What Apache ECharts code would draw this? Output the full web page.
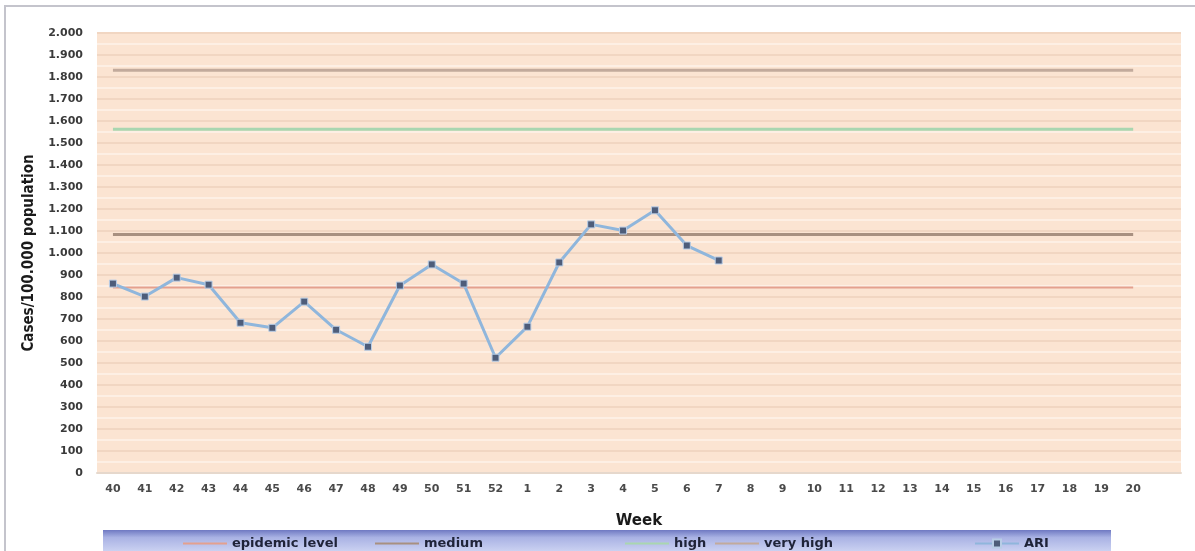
<!DOCTYPE html>
<html>
<head>
<meta charset="utf-8">
<script src="https://cdn.jsdelivr.net/npm/echarts@6/dist/echarts.min.js"></script>
<style>
  html, body { margin: 0; padding: 0; background: #ffffff; }
  #chart { width: 1195px; height: 551px; }
</style>
</head>
<body>
<div id="chart"></div>
<script>
// Surveillance weeks (season 40 .. 20), plus one empty slot at the right end
const weeks = ['40','41','42','43','44','45','46','47','48','49','50','51','52',
               '1','2','3','4','5','6','7','8','9','10','11','12','13','14','15','16','17','18','19','20'];
const axisWeeks = weeks.concat(['']);

// ARI incidence per 100.000 population (weeks 40 .. 7)
const ari = [861, 802, 888, 856, 683, 660, 779, 651, 574, 852, 948, 861, 524,
             665, 957, 1130, 1102, 1194, 1034, 966];

// Intensity thresholds
const epidemicLevel = 843;
const medium = 1084;
const high = 1563;
const veryHigh = 1831;

const yTicks = { min: 0, max: 2000, interval: 100 };

const flat = v => weeks.map(() => v);

function thousands(v) {
  if (v < 1000) return String(v);
  const r = v % 1000;
  return Math.floor(v / 1000) + '.' + String(r).padStart(3, '0');
}

const chart = echarts.init(document.getElementById('chart'));

const legendText = { fontFamily: 'DejaVu Sans', fontWeight: 'bold', fontSize: 13, color: '#1f2338' };
function legendAt(name, left, asLine) {
  const item = asLine ? { name: name, icon: 'rect' } : { name: name };
  return {
    data: [item], left: left, top: 535, padding: 2,
    itemWidth: 44, itemHeight: asLine ? 2 : 10,
    itemGap: 8, textStyle: legendText, selectedMode: false
  };
}

chart.setOption({
  animation: false,
  backgroundColor: '#ffffff',
  graphic: [
    {
      type: 'rect', silent: true, z: -1,
      shape: { x: 5, y: 6, width: 1200, height: 560 },
      style: { fill: 'none', stroke: '#c4c4cc', lineWidth: 2 }
    },
    {
      type: 'rect', silent: true, z: 0,
      shape: { x: 103, y: 530, width: 1008, height: 25 },
      style: {
        fill: new echarts.graphic.LinearGradient(0, 0, 0, 1, [
          { offset: 0, color: '#6f79c2' },
          { offset: 0.3, color: '#a9b2e4' },
          { offset: 1, color: '#d4daf5' }
        ])
      }
    }
  ],
  legend: [
    legendAt('epidemic level', 181, true),
    legendAt('medium', 373, true),
    legendAt('high', 623, true),
    legendAt('very high', 713, true),
    legendAt('ARI', 972, false)
  ],
  grid: {
    left: 97, right: 14, top: 33, bottom: 78,
    show: true, backgroundColor: '#fbe4d2', borderWidth: 0
  },
  xAxis: {
    type: 'category',
    data: axisWeeks,
    boundaryGap: true,
    name: 'Week',
    nameLocation: 'middle',
    nameGap: 41,
    nameTextStyle: { fontFamily: 'DejaVu Sans', fontWeight: 'bold', fontSize: 15, color: '#1a1a1a' },
    axisLine: { lineStyle: { color: '#e6d8cc', width: 2 } },
    axisTick: { show: false },
    axisLabel: {
      interval: 0, margin: 11,
      fontFamily: 'DejaVu Sans', fontWeight: 'bold', fontSize: 11, color: '#4a4a4a'
    }
  },
  yAxis: {
    type: 'value',
    min: yTicks.min, max: yTicks.max, interval: yTicks.interval,
    name: 'Cases/100.000 population',
    nameLocation: 'middle',
    nameGap: 60,
    nameTextStyle: { fontFamily: 'DejaVu Sans Condensed, DejaVu Sans', fontWeight: 'bold', fontSize: 15, color: '#1a1a1a' },
    axisLine: { show: false },
    axisTick: { show: false },
    axisLabel: {
      formatter: thousands, margin: 14,
      fontFamily: 'DejaVu Sans', fontWeight: 'bold', fontSize: 11, color: '#3a3a3a'
    },
    splitLine: { lineStyle: { color: '#f1d6c2', width: 2 } },
    minorTick: { show: false, splitNumber: 2 },
    minorSplitLine: { show: true, lineStyle: { color: '#fdefe4', width: 2 } }
  },
  series: [
    {
      name: 'epidemic level', type: 'line', data: flat(epidemicLevel),
      symbol: 'none', lineStyle: { color: '#e4a08e', width: 2 },
      itemStyle: { color: '#e4a08e' }, z: 2
    },
    {
      name: 'medium', type: 'line', data: flat(medium),
      symbol: 'none', lineStyle: { color: '#a89080', width: 3 },
      itemStyle: { color: '#a89080' }, z: 2
    },
    {
      name: 'high', type: 'line', data: flat(high),
      symbol: 'none', lineStyle: { color: '#a9d6b0', width: 3 },
      itemStyle: { color: '#a9d6b0' }, z: 2
    },
    {
      name: 'very high', type: 'line', data: flat(veryHigh),
      symbol: 'none', lineStyle: { color: '#c2aa9c', width: 3 },
      itemStyle: { color: '#c2aa9c' }, z: 2
    },
    {
      name: 'ARI', type: 'line', data: ari,
      symbol: 'rect', symbolSize: 7,
      lineStyle: { color: '#8fb6dc', width: 3 },
      itemStyle: { color: '#4e5d7a', borderColor: '#b8cde6', borderWidth: 1 },
      z: 5
    }
  ]
});
</script>
</body>
</html>
